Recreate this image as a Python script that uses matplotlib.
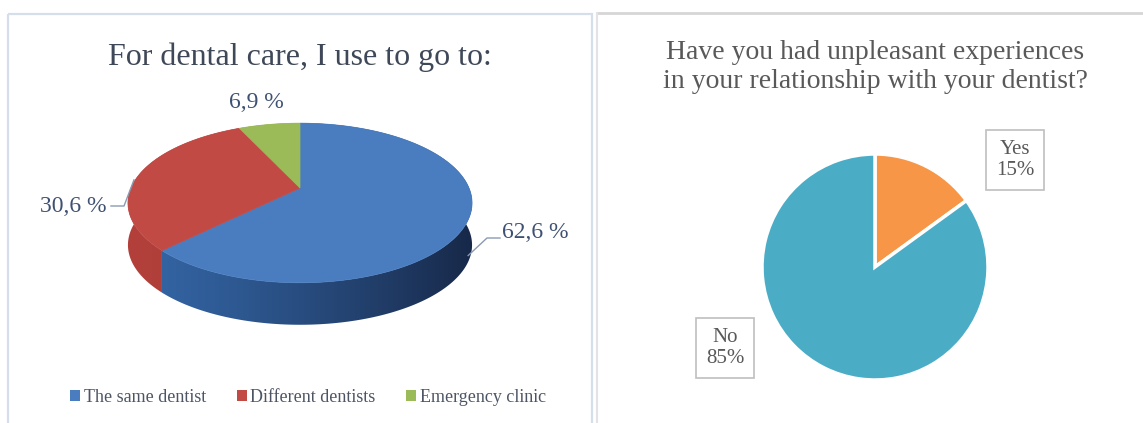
import numpy as np
import matplotlib.pyplot as plt
from matplotlib.patches import Polygon, Rectangle, Patch
from matplotlib.colors import to_rgb

plt.rcParams['font.family'] = ['Liberation Serif', 'DejaVu Serif']

# left chart: where people go for dental care
care_labels = ['The same dentist', 'Different dentists', 'Emergency clinic']
care_pct = [62.6, 30.6, 6.9]

# right chart: unpleasant experiences with the dentist
exp_labels = ['Yes', 'No']
exp_pct = [15, 85]

W, H = 1143, 423
fig = plt.figure(figsize=(W / 100, H / 100), dpi=100)
ax = fig.add_axes([0, 0, 1, 1])

# panel frames
ax.add_patch(Rectangle((8, 14), 584, 440, fill=False, ec='#d5deea', lw=1.6))
ax.plot([597, W], [13, 13], color='#d6d6d6', lw=2)
ax.plot([597, 597], [13, H], color='#e3e3e3', lw=1.5)

# ---- 3D pie (drawn as projected polygons) ----
cx, cy = 300, 188          # vertex of the top face, pixels
a, b, k, depth = 169, 77, 0.1875, 42


def rim(phi):
    # phi measured clockwise from 12 o'clock; k gives a little perspective
    s = 1 + k * np.cos(phi)
    return cx + a * np.sin(phi) / s, cy - b * np.cos(phi) / s


tops = ['#4a7dbf', '#c24a45', '#9bbb59']
side_lt = ['#3466a6', '#b3403b', '#88a84a']
side_dk = ['#172848', '#7a2320', '#5d7530']

fr = np.array(care_pct) / sum(care_pct)
edges = np.concatenate([[0], np.cumsum(fr)]) * 2 * np.pi

# side wall: a horizontal gradient clipped to each slice's band
t = np.linspace(0, 1, 256) ** 1.3
for i in range(len(care_pct)):
    phis = np.linspace(edges[i], edges[i + 1], 300)
    xs, ys = rim(phis)
    band = list(zip(xs, ys)) + list(zip(xs[::-1], ys[::-1] + depth))
    clip = Polygon(band, closed=True, fc='none', ec='none', transform=ax.transData)
    ax.add_patch(clip)
    lt, dk = np.array(to_rgb(side_lt[i])), np.array(to_rgb(side_dk[i]))
    grad = (lt[None, :] * (1 - t[:, None]) + dk[None, :] * t[:, None])[None, :, :]
    im = ax.imshow(grad, extent=(cx - a - 6, cx + a + 6, cy + 2 * b, cy - 2 * b),
                   aspect='auto', interpolation='bilinear', zorder=1)
    im.set_clip_path(clip)

for i in range(len(care_pct)):
    phis = np.linspace(edges[i], edges[i + 1], 300)
    xs, ys = rim(phis)
    pts = [(cx, cy)] + list(zip(xs, ys))
    ax.add_patch(Polygon(pts, closed=True, fc=tops[i], ec=tops[i], lw=0.5, zorder=2))

ax.set_xlim(0, W)
ax.set_ylim(H, 0)
ax.axis('off')

ax.text(300, 57, 'For dental care, I use to go to:', ha='center', va='center',
        fontsize=23, color='#3f4858')


def pct_txt(v):
    return f'{v:.1f}'.replace('.', ',') + ' %'


lab_col = '#3f5173'
lead_col = '#8a9ab3'
ax.text(256, 103, pct_txt(care_pct[2]), ha='center', va='center', fontsize=17, color=lab_col)
ax.text(73, 206, pct_txt(care_pct[1]), ha='center', va='center', fontsize=17, color=lab_col)
ax.text(535, 233, pct_txt(care_pct[0]), ha='center', va='center', fontsize=17, color=lab_col)

# leader lines toward the slice centres
mx, my = rim(0.5 * (edges[1] + edges[2]))
ax.plot([111, 124, mx - 5], [206, 206, my + 5], color=lead_col, lw=1, zorder=3)
mx, my = rim(0.5 * (edges[0] + edges[1]))
ax.plot([500, 487, mx], [238, 238, my + depth * 0.85], color=lead_col, lw=1, zorder=3)

handles = [Patch(fc=c, ec='none') for c in tops]
ax.legend(handles, care_labels, loc='center', ncol=3, frameon=False,
          bbox_to_anchor=(308 / W, 1 - 397 / H), fontsize=13,
          handlelength=0.55, handleheight=0.55, handletextpad=0.2,
          columnspacing=1.7, labelcolor='#4d5565')

# ---- flat pie ----
pr = 113
pcx, pcy = 875, 267
ax2 = fig.add_axes([(pcx - 1.25 * pr) / W, (H - pcy - 1.25 * pr) / H,
                    2.5 * pr / W, 2.5 * pr / H])
ax2.pie(exp_pct, colors=['#f79646', '#4bacc6'], startangle=90, counterclock=False,
        wedgeprops=dict(ec='white', lw=2.5))
ax2.set_xlim(-1.25, 1.25)
ax2.set_ylim(-1.25, 1.25)
ax2.axis('off')

ax.text(875, 67, 'Have you had unpleasant experiences\nin your relationship with your dentist?',
        ha='center', va='center', fontsize=20, color='#595959', linespacing=1.26)

box = dict(boxstyle='square,pad=0.45', fc='white', ec='#bfbfbf', lw=1.2)
for (lx, ly), lab, v in zip([(1015, 160), (725, 348)], exp_labels, exp_pct):
    ax.text(lx, ly, f'{lab}\n{v}%', ha='center', va='center', fontsize=15,
            color='#595959', linespacing=1.2, bbox=box)

fig.savefig('out.png', dpi=100, facecolor='white')
